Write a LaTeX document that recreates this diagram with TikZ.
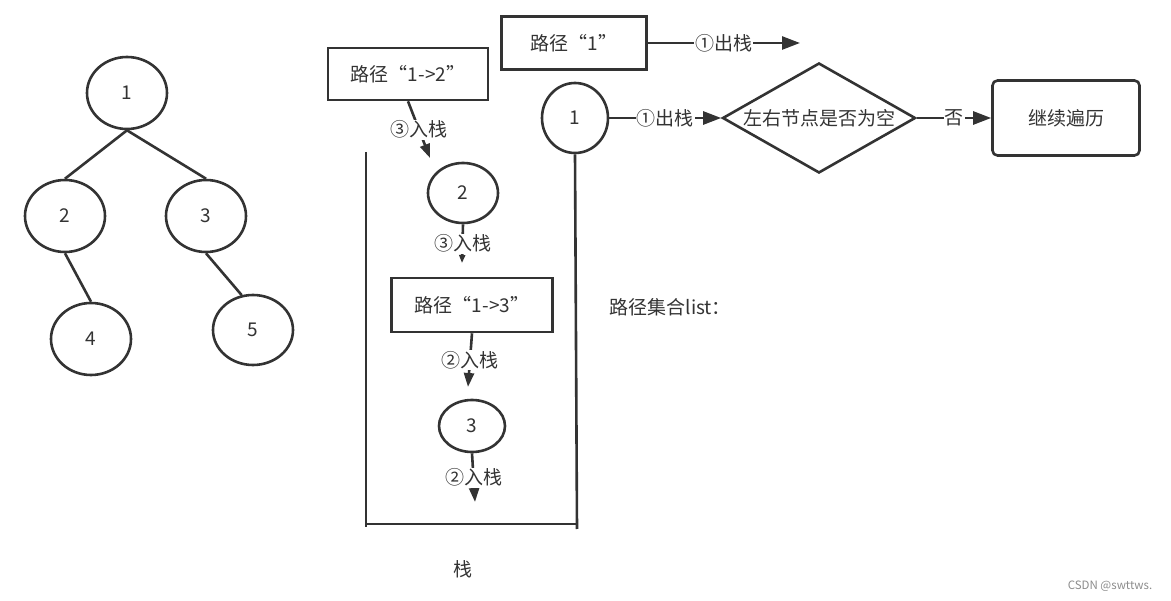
\documentclass[tikz,border=0pt]{standalone}
\usepackage{fontspec}
\setmainfont{Noto Sans CJK SC}
\usetikzlibrary{positioning, arrows.meta, shapes.geometric}

\begin{document}
\begin{tikzpicture}[x=1pt, y=-1pt, line width=2.6pt, color=black!80, font=\fontsize{19}{23}\selectfont]
	% 定义样式
	\tikzset{
		tnode/.style = {
			ellipse, draw,
			minimum width = 80pt, minimum height = 72pt,
			inner sep = 0pt
		},
		pathbox/.style = {
			rectangle, draw,
			minimum width = 160pt, minimum height = 52pt
		},
		lab/.style = {fill=white, inner sep=1pt},
		arr/.style = {-{Triangle[length=18pt, width=13pt]}},
		sarr/.style = {-{Triangle[length=14pt, width=10pt]}},
		tarr/.style = {-{Triangle[length=8pt, width=6pt]}}
	}
	\useasboundingbox (0,0) rectangle (1171,601);
	
	% 左侧二叉树
	\node[tnode] (t1) at (127,93) {1};
	\node[tnode] (t2) at (65,216) {2};
	\node[tnode] (t3) at (206,216) {3};
	\node[tnode] (t4) at (91,339) {4};
	\node[tnode, minimum height=70pt] (t5) at (253,330) {5};
	\foreach \a/\b in {t1/t2, t1/t3, t2/t4} {
		\draw (\a.south) -- (\b.north);
	}
	\draw (t3.south) -- (t5.108);
	
	% 出栈与判断
	\node[pathbox, minimum width=145pt, minimum height=53pt] (p1) at (574,43) {路径“1”};
	\coordinate (o1) at (800,43);
	\draw[arr] (p1) -- node[lab] {①出栈} (o1);
	
	\node[ellipse, draw, minimum width=66pt, minimum height=70pt, inner sep=0pt] (c1) at (575,118) {1};
	\node[diamond, draw, minimum width=193pt, minimum height=110pt, inner sep=0pt,
		label=center:左右节点是否为空] (d) at (819,118) {};
	\node[rectangle, rounded corners=5pt, draw, minimum width=147pt, minimum height=75pt] (go) at (1066,118) {继续遍历};
	\draw[arr] (c1) -- node[lab] {①出栈} (d);
	\draw[arr] (d) -- node[lab] {否} (go);
	
	% 栈中的内容
	\node[pathbox] (p12) at (408,74) {路径“1->2”};
	\node[tnode, minimum width=70pt, minimum height=60pt] (s2) at (463,193) {2};
	\node[pathbox, minimum width=161pt, minimum height=54pt] (p13) at (472,305) {路径“1->3”};
	\node[tnode, minimum width=66pt, minimum height=52pt] (s3) at (472,426) {3};
	\coordinate (a1) at (430,158);
	\coordinate (a2) at (462,263);
	\coordinate (a3) at (468,387);
	\coordinate (a4) at (475,502);
	\draw[sarr] (p12.south) -- node[lab] {③入栈} (a1);
	\draw[tarr] (s2.south) -- node[lab] {③入栈} (a2);
	\draw[sarr] (p13.south) -- node[lab] {②入栈} (a3);
	\draw[sarr] (s3.south) -- node[lab] {②入栈} (a4);
	
	% 栈的边框
	\coordinate (sl) at (366,152);
	\coordinate (sb) at (366,527);
	\coordinate (sr) at (577,529);
	\draw (sl) -- (sb);
	\draw (366,524) -- (577,524);
	\draw (c1.south) -- (sr);
	
	% 文字
	\node (stk) at (463,569) {栈};
	\node[anchor=west] (lst) at (605,307) {路径集合list：};
	\node[text=black!45, font=\fontsize{11.5}{13}\selectfont] (csdn) at (1110,586) {CSDN @swttws.};
\end{tikzpicture}
\end{document}
